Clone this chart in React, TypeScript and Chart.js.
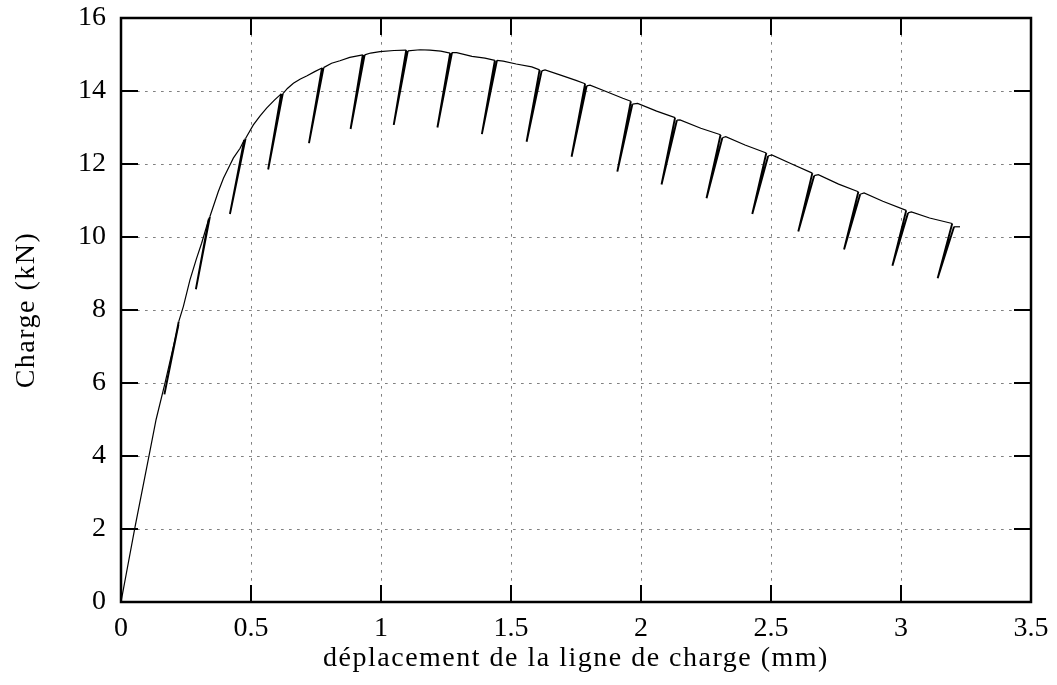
import React, { useEffect, useRef } from "react";
import { Chart, registerables } from "chart.js";

Chart.register(...registerables);

// ---- data ----
const X_TICKS = [0, 0.5, 1, 1.5, 2, 2.5, 3, 3.5];
const Y_TICKS = [0, 2, 4, 6, 8, 10, 12, 14, 16];
const X_TITLE = "déplacement de la ligne de charge (mm)";
const Y_TITLE = "Charge (kN)";

// recorded path (in order): envelope with unloading / reloading cycles
const displacementMm = [
  0, 0.054, 0.112, 0.135, 0.169, 0.195, 0.221,
  0.167, 0.222,
  0.24, 0.265, 0.29, 0.31, 0.338,
  0.288, 0.342,
  0.374, 0.394, 0.419, 0.432, 0.458, 0.474,
  0.419, 0.479,
  0.509, 0.535, 0.56, 0.59, 0.616,
  0.566, 0.622,
  0.64, 0.663, 0.69, 0.714, 0.745, 0.773,
  0.723, 0.779,
  0.81, 0.842, 0.88, 0.93,
  0.883, 0.937,
  0.96, 0.996, 1.05, 1.097,
  1.049, 1.103,
  1.15, 1.188, 1.23, 1.266,
  1.217, 1.273,
  1.291, 1.35, 1.4, 1.438,
  1.388, 1.446,
  1.47, 1.52, 1.58, 1.61,
  1.56, 1.618,
  1.631, 1.688, 1.75, 1.785,
  1.733, 1.791,
  1.804, 1.868, 1.93, 1.961,
  1.909, 1.967,
  1.987, 2.06, 2.131,
  2.079, 2.138,
  2.15, 2.23, 2.306,
  2.252, 2.313,
  2.326, 2.4, 2.482,
  2.428, 2.489,
  2.503, 2.58, 2.659,
  2.605, 2.666,
  2.682, 2.76, 2.836,
  2.781, 2.843,
  2.858, 2.93, 3.02,
  2.967, 3.027,
  3.04, 3.11, 3.197,
  3.141, 3.204,
  3.227,
];
const loadKN = [
  0, 2.06, 4.16, 5.0, 5.99, 6.8, 7.6,
  5.69, 7.68,
  8.1, 8.82, 9.4, 9.83, 10.5,
  8.57, 10.56,
  11.24, 11.61, 11.97, 12.16, 12.43, 12.66,
  10.63, 12.7,
  13.07, 13.32, 13.53, 13.75, 13.92,
  11.85, 13.92,
  14.07, 14.21, 14.33, 14.41, 14.53, 14.63,
  12.57, 14.64,
  14.76, 14.83, 14.92, 14.99,
  12.96, 14.99,
  15.04, 15.08, 15.11, 15.12,
  13.07, 15.1,
  15.13, 15.12, 15.09, 15.04,
  13.0, 15.05,
  15.05, 14.95, 14.9, 14.84,
  12.82, 14.84,
  14.82, 14.74, 14.66, 14.58,
  12.61, 14.55,
  14.58, 14.44, 14.29, 14.2,
  12.2, 14.14,
  14.16, 13.98, 13.8, 13.72,
  11.79, 13.64,
  13.66, 13.45, 13.27,
  11.44, 13.2,
  13.21, 12.98, 12.8,
  11.06, 12.72,
  12.75, 12.52, 12.3,
  10.63, 12.22,
  12.25, 12.0, 11.75,
  10.15, 11.68,
  11.71, 11.45, 11.24,
  9.66, 11.17,
  11.21, 10.98, 10.73,
  9.21, 10.66,
  10.69, 10.52, 10.37,
  8.87, 10.28,
  10.28,
];

const FONT = "'Liberation Serif', 'Times New Roman', serif";

// titles are drawn in the grid layer (before datasets): give them a slightly wider tracking
const trackingPlugin = {
  id: "tracking",
  beforeDraw(chart: any) {
    chart.ctx.letterSpacing = "1.5px";
  },
  beforeDatasetsDraw(chart: any) {
    chart.ctx.letterSpacing = "0px";
  },
};

const framePlugin = {
  id: "frame",
  afterDatasetsDraw(chart: any) {
    const { ctx, chartArea, scales } = chart;
    const { left, right, top, bottom } = chartArea;
    const xs = scales.x;
    const ys = scales.y;
    const len = 17;
    ctx.save();
    ctx.strokeStyle = "#000";
    ctx.lineWidth = 2;
    ctx.beginPath();
    for (const v of X_TICKS) {
      const px = xs.getPixelForValue(v);
      ctx.moveTo(px, bottom);
      ctx.lineTo(px, bottom - len);
      ctx.moveTo(px, top);
      ctx.lineTo(px, top + len);
    }
    for (const v of Y_TICKS) {
      const py = ys.getPixelForValue(v);
      ctx.moveTo(left, py);
      ctx.lineTo(left + len, py);
      ctx.moveTo(right, py);
      ctx.lineTo(right - len, py);
    }
    ctx.stroke();
    ctx.lineWidth = 2.5;
    ctx.strokeRect(left, top, right - left, bottom - top);
    ctx.restore();
  },
};

// a segment belongs to an unloading / reloading branch when it goes back in x,
// or when it starts from the bottom of such a branch
function isCycleSegment(i0: number, i1: number) {
  if (displacementMm[i1] < displacementMm[i0]) return true;
  if (i0 > 0 && displacementMm[i0] < displacementMm[i0 - 1]) return true;
  return false;
}

export default function App() {
  const ref = useRef<HTMLCanvasElement | null>(null);

  useEffect(() => {
    if (!ref.current) return;
    const points = displacementMm.map((x, i) => ({ x, y: loadKN[i] }));
    const chart = new Chart(ref.current, {
      type: "scatter",
      data: {
        datasets: [
          {
            data: points,
            showLine: true,
            borderColor: "#000",
            borderWidth: 1.2,
            pointRadius: 0,
            tension: 0,
            fill: false,
            segment: {
              borderWidth: (c: any) => (isCycleSegment(c.p0DataIndex, c.p1DataIndex) ? 1.9 : 1.2),
            },
          } as any,
        ],
      },
      options: {
        animation: false,
        responsive: false,
        devicePixelRatio: 1,
        layout: { padding: { left: 0, top: 18, right: 26, bottom: 0 } },
        plugins: {
          legend: { display: false },
          tooltip: { enabled: false },
        },
        scales: {
          x: {
            type: "linear",
            min: 0,
            max: 3.5,
            afterBuildTicks: (s: any) => {
              s.ticks = X_TICKS.map((v) => ({ value: v }));
            },
            afterFit: (s: any) => {
              s.height = 83;
              s.paddingLeft = 0;
              s.paddingRight = 0;
              s.paddingTop = 0;
              s.paddingBottom = 0;
            },
            ticks: {
              z: 1,
              color: "#000",
              padding: 10,
              maxRotation: 0,
              autoSkip: false,
              font: { family: FONT, size: 28 },
              callback: (v: any) => String(v),
            },
            grid: {
              color: "#808080",
              lineWidth: 1,
              drawTicks: false,
            },
            border: { display: false, dash: [2.7, 5.3] },
            title: {
              display: true,
              text: X_TITLE,
              color: "#000",
              font: { family: FONT, size: 28 },
              padding: { top: 0, bottom: 10 },
            },
          },
          y: {
            type: "linear",
            min: 0,
            max: 16,
            afterBuildTicks: (s: any) => {
              s.ticks = Y_TICKS.map((v) => ({ value: v }));
            },
            afterFit: (s: any) => {
              s.width = 121;
              s.paddingLeft = 0;
              s.paddingRight = 0;
              s.paddingTop = 0;
              s.paddingBottom = 0;
            },
            ticks: {
              z: 1,
              color: "#000",
              padding: 15,
              autoSkip: false,
              font: { family: FONT, size: 28 },
              callback: (v: any) => String(v),
            },
            grid: {
              color: "#808080",
              lineWidth: 1,
              drawTicks: false,
            },
            border: { display: false, dash: [2.7, 5.3] },
            title: {
              display: true,
              text: Y_TITLE,
              color: "#000",
              font: { family: FONT, size: 28 },
              padding: { top: 9.5, bottom: 0 },
            },
          },
        },
      },
      plugins: [trackingPlugin, framePlugin],
    });
    return () => chart.destroy();
  }, []);

  return (
    <div style={{ position: "absolute", left: 0, top: 0, width: 1057, height: 685, background: "#fff" }}>
      <canvas ref={ref} width={1057} height={685} style={{ display: "block" }} />
    </div>
  );
}
